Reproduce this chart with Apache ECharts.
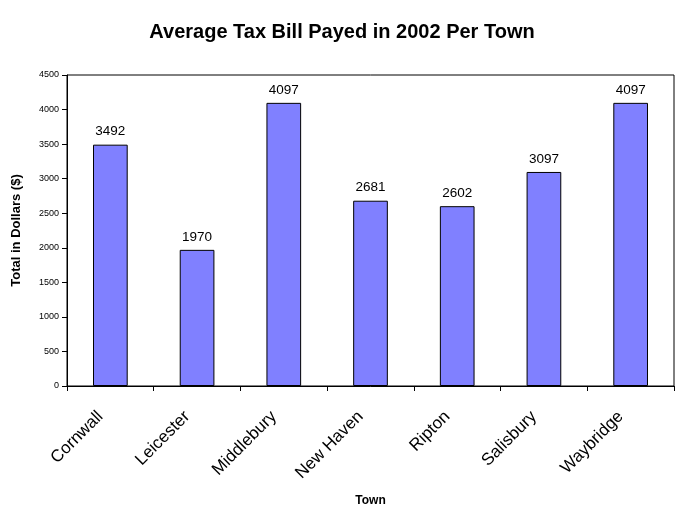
<!DOCTYPE html>
<html><head><meta charset="utf-8">
<script src="https://cdn.jsdelivr.net/npm/echarts@6/dist/echarts.min.js"></script>
<style>html,body{margin:0;padding:0;background:#fff}#c{width:684px;height:524px}</style>
</head><body><div id="c"></div>
<script>
const towns = ["Cornwall","Leicester","Middlebury","New Haven","Ripton","Salisbury","Waybridge"];
const taxBill = [3492,1970,4097,2681,2602,3097,4097];
const yMin = 0, yMax = 4500, yStep = 500;

const chart = echarts.init(document.getElementById('c'), null, {renderer:'canvas'});
chart.setOption({
  animation:false,
  backgroundColor:'#fff',
  title:{text:'Average Tax Bill Payed in 2002 Per Town',left:'center',top:17,
    textStyle:{fontFamily:'Arial, Liberation Sans',fontSize:20,fontWeight:'bold',color:'#000'}},
  grid:{left:67,right:10,top:75,bottom:138,show:true,borderColor:'#000',borderWidth:1,backgroundColor:'#fff'},
  xAxis:{type:'category',data:towns,name:'Town',nameLocation:'middle',nameGap:109,
    nameTextStyle:{fontFamily:'Arial, Liberation Sans',fontSize:12,fontWeight:'bold',color:'#000'},
    axisLine:{lineStyle:{color:'#000'}},
    axisTick:{show:true,length:5,lineStyle:{color:'#000'}},
    axisLabel:{rotate:45,fontFamily:'Arial, Liberation Sans',fontSize:17,color:'#000',margin:18,interval:0,
      padding:[0,14,0,0]}},
  yAxis:{type:'value',min:yMin,max:yMax,interval:yStep,name:'Total in Dollars ($)',nameLocation:'middle',nameGap:44,
    nameTextStyle:{fontFamily:'Arial, Liberation Sans',fontSize:13,fontWeight:'bold',color:'#000'},
    axisLine:{show:true,lineStyle:{color:'#000'}},
    axisTick:{show:true,length:5,lineStyle:{color:'#000'}},
    splitLine:{show:false},
    axisLabel:{fontFamily:'Arial, Liberation Sans',fontSize:9,color:'#000',margin:8,
      formatter:function(v){return String(v);}}},
  series:[{type:'bar',data:taxBill,barWidth:'40%',
    itemStyle:{color:'#8080FF',borderColor:'#000',borderWidth:1},
    label:{show:true,position:'top',distance:6,fontFamily:'Arial, Liberation Sans',fontSize:13.5,color:'#000'}}]
});
</script></body></html>
